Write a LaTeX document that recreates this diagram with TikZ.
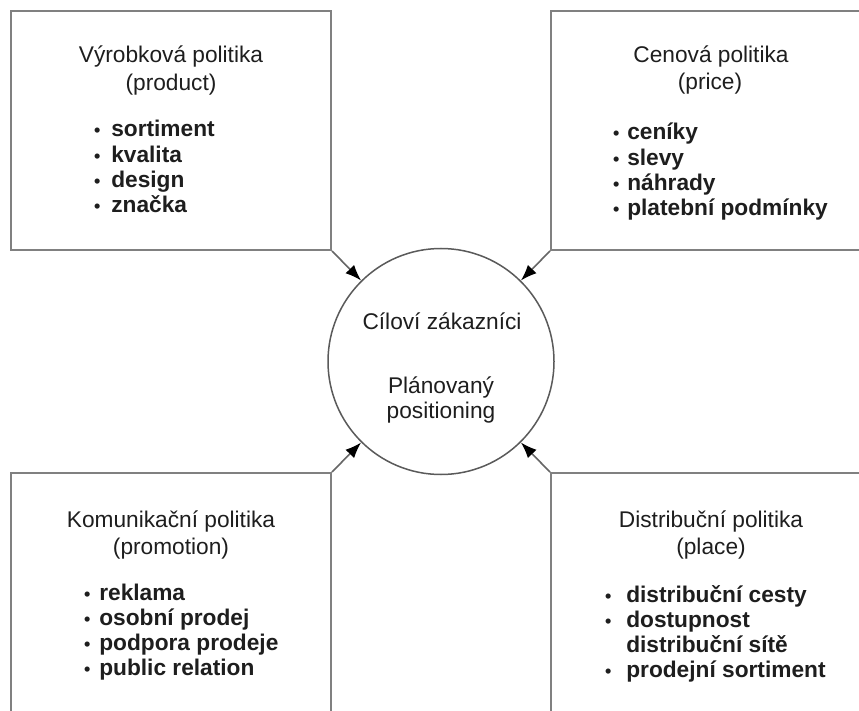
\documentclass[tikz,border=0pt]{standalone}
\usepackage{fontspec}
\setmainfont{Liberation Sans}
\usetikzlibrary{arrows.meta}
\definecolor{boxline}{HTML}{808080}
\definecolor{circline}{HTML}{5A5A5A}
\definecolor{arrline}{HTML}{666666}
\definecolor{txt}{HTML}{1E1E1E}
\newcommand{\blt}{{\fontsize{18}{18}\selectfont\textbullet}}
\tikzset{
  polbox/.style={draw=boxline, line width=2pt, rectangle, minimum width=320pt, minimum height=250pt, inner sep=0pt},
  target/.style={draw=circline, line width=1.5pt, circle, minimum size=226pt, inner sep=0pt},
  arr/.style={draw=arrline, line width=1.6pt, -{Latex[length=16pt,width=12pt,color=black,fill=black]}},
  ttl/.style={anchor=base, inner sep=0pt, text=txt, font=\fontsize{22.7}{25}\selectfont},
  lst/.style={anchor=base west, inner sep=0pt, text=txt, font=\fontsize{22.7}{25.2}\selectfont\bfseries}
}
\begin{document}
\begin{tikzpicture}[x=1pt,y=-1pt]
\useasboundingbox (0,0) rectangle (859,711);
\clip (0,0) rectangle (859,711);
\fill[white] (0,0) rectangle (859,711);

% boxes
\node[polbox, minimum height=239pt] (tl) at (171,130.5) {};
\node[polbox, minimum height=239pt] (tr) at (711,130.5) {};
\node[polbox] (bl) at (171,598) {};
\node[polbox] (br) at (711,598) {};

% centre circle
\node[target] (circ) at (441,361.5) {};

% arrows
\draw[arr] (tl.south east) -- (circ);
\draw[arr] (tr.south west) -- (circ);
\draw[arr] (bl.north east) -- (circ);
\draw[arr] (br.north west) -- (circ);

% top-left
\node[ttl] (tlt1) at (171,63) {Výrobková politika};
\node[ttl] (tlt2) at (171,91) {(product)};
\node[lst] (tll) at (93.8,137) {\begin{tabular}[t]{@{}l@{\hspace{11pt}}l@{}}\blt & sortiment\\ \blt & kvalita\\ \blt & design\\ \blt & značka\end{tabular}};

% top-right
\node[ttl] (trt1) at (711,63) {Cenová politika};
\node[ttl] (trt2) at (710,90) {(price)};
\node[lst] (trl) at (612.8,140) {\begin{tabular}[t]{@{}l@{\hspace{8pt}}l@{}}\blt & ceníky\\ \blt & slevy\\ \blt & náhrady\\ \blt & platební podmínky\end{tabular}};

% bottom-left
\node[ttl] (blt1) at (171,527) {Komunikační politika};
\node[ttl] (blt2) at (171,554) {(promotion)};
\node[lst] (bll) at (83.8,600) {\begin{tabular}[t]{@{}l@{\hspace{9pt}}l@{}}\blt & reklama\\ \blt & osobní prodej\\ \blt & podpora prodeje\\ \blt & public relation\end{tabular}};

% bottom-right
\node[ttl] (brt1) at (711,527) {Distribuční politika};
\node[ttl] (brt2) at (711,554) {(place)};
\node[lst] (brl) at (604.8,602) {\begin{tabular}[t]{@{}l@{\hspace{15pt}}l@{}}\blt & distribuční cesty\\ \blt & dostupnost\\ & distribuční sítě\\ \blt & prodejní sortiment\end{tabular}};

% circle text
\node[ttl] (c1) at (442,329) {Cíloví zákazníci};
\node[ttl] (c2) at (441,393) {Plánovaný};
\node[ttl] (c3) at (441,418) {positioning};
\end{tikzpicture}
\end{document}
